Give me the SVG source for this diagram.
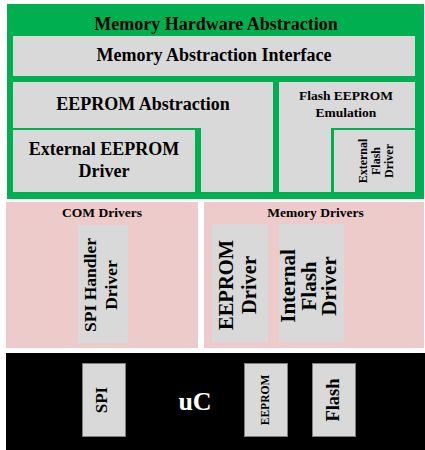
<svg xmlns="http://www.w3.org/2000/svg" width="425" height="450" viewBox="0 0 425 450">
<style>
text{font-family:"Liberation Serif","Times New Roman",serif;font-weight:bold;fill:#000}
.gray{fill:#d9d9d9}
.pink{fill:#edcbcb}
.green{fill:#00b050}
.chip{fill:#d9d9d9;stroke:#7f7f7f;stroke-width:1}
.t18{font-size:18px}
.t135{font-size:13.5px}
</style>
<rect width="425" height="450" fill="#ffffff"/>
<g id="memory-hardware-abstraction">
<rect class="green" x="7" y="4" width="417" height="195"/>
<text class="t18" x="216" y="30" text-anchor="middle">Memory Hardware Abstraction</text>
</g>
<g id="memory-abstraction-interface">
<rect class="gray" x="13" y="36" width="402" height="40"/>
<text class="t18" x="214" y="61" text-anchor="middle">Memory Abstraction Interface</text>
</g>
<g id="eeprom-abstraction">
<path class="gray" d="M13,82 H273 V192 H201 V128 H13 Z"/>
<text class="t18" x="143" y="110" text-anchor="middle">EEPROM Abstraction</text>
</g>
<g id="external-eeprom-driver">
<rect class="gray" x="13" y="130" width="182" height="62"/>
<text class="t18" x="104" y="155" text-anchor="middle">External EEPROM</text>
<text class="t18" x="104" y="177" text-anchor="middle">Driver</text>
</g>
<g id="flash-eeprom-emulation">
<path class="gray" d="M279,82 H415 V128 H331 V192 H279 Z"/>
<text class="t135" x="346" y="100" text-anchor="middle">Flash EEPROM</text>
<text class="t135" x="346" y="117" text-anchor="middle">Emulation</text>
</g>
<g id="external-flash-driver">
<rect class="gray" x="334" y="130" width="81" height="62"/>
<text transform="translate(367,161) rotate(-90)" text-anchor="middle" font-size="12"><tspan x="0" dy="0">External</tspan><tspan x="0" dy="13">Flash</tspan><tspan x="0" dy="13">Driver</tspan></text>
</g>
<g id="com-drivers">
<rect class="pink" x="6" y="202" width="192" height="146"/>
<text class="t135" x="102" y="217" text-anchor="middle">COM Drivers</text>
</g>
<g id="spi-handler-driver">
<rect class="gray" x="78" y="225" width="50" height="118"/>
<text transform="translate(96,285) rotate(-90)" text-anchor="middle" font-size="17.5"><tspan x="0" dy="0">SPI Handler</tspan><tspan x="0" dy="21">Driver</tspan></text>
</g>
<g id="memory-drivers">
<rect class="pink" x="204" y="202" width="220" height="146"/>
<text class="t135" x="315.5" y="217" text-anchor="middle">Memory Drivers</text>
</g>
<g id="eeprom-driver">
<rect class="gray" x="212" y="224" width="56" height="118"/>
<text transform="translate(233,285) rotate(-90)" text-anchor="middle" font-size="20.5"><tspan x="0" dy="0">EEPROM</tspan><tspan x="0" dy="23">Driver</tspan></text>
</g>
<g id="internal-flash-driver">
<rect class="gray" x="279" y="224" width="65" height="118"/>
<text transform="translate(295,286) rotate(-90)" text-anchor="middle" font-size="21"><tspan x="0" dy="0">Internal</tspan><tspan x="0" dy="20.5">Flash</tspan><tspan x="0" dy="20.5">Driver</tspan></text>
</g>
<g id="uc">
<rect fill="#000000" x="6" y="353" width="419" height="97"/>
<text x="195" y="410" text-anchor="middle" font-size="26" style="fill:#ffffff">uC</text>
</g>
<g id="uc-spi">
<rect class="chip" x="82.5" y="363.5" width="43" height="73"/>
<text transform="translate(107,400) rotate(-90)" text-anchor="middle" font-size="17">SPI</text>
</g>
<g id="uc-eeprom">
<rect class="chip" x="244.5" y="363.5" width="43" height="73"/>
<text transform="translate(269,400) rotate(-90)" text-anchor="middle" font-size="11.5">EEPROM</text>
</g>
<g id="uc-flash">
<rect class="chip" x="312.5" y="363.5" width="43" height="73"/>
<text transform="translate(339,400) rotate(-90)" text-anchor="middle" font-size="18.5">Flash</text>
</g>
<g id="connectors"/>
</svg>
